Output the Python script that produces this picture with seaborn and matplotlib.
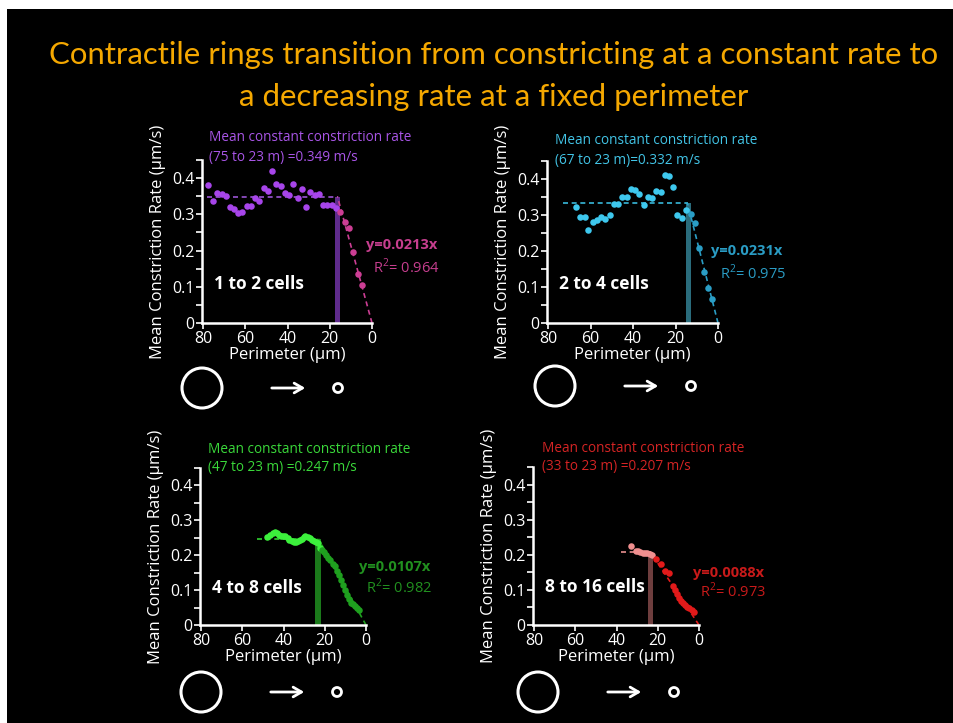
import numpy as np
import pandas as pd
import matplotlib as mpl
from matplotlib import pyplot as plt
from matplotlib.patches import Ellipse, Rectangle, FancyArrowPatch
from matplotlib.ticker import MultipleLocator, FuncFormatter
import seaborn as sns

# ---- data ---------------------------------------------------------------
# panel 1: 1 to 2 cells
p1_const_x = [77.6, 75.6, 73.4, 71.3, 69.4, 67.4, 65.3, 63.6, 61.4, 59.5, 57.3, 55.4,
              53.5, 51.3, 49.2, 47.2, 45.3, 43.2, 41.2, 39.3, 37.3, 35.2, 33.2, 31.1,
              29.2, 27.2, 25.1, 23.2, 21.2, 19.0, 17.1]
p1_const_y = [0.381, 0.336, 0.359, 0.357, 0.350, 0.319, 0.315, 0.305, 0.307, 0.324, 0.324, 0.344,
              0.336, 0.373, 0.364, 0.420, 0.384, 0.378, 0.358, 0.352, 0.385, 0.345, 0.371, 0.319,
              0.363, 0.352, 0.355, 0.325, 0.325, 0.326, 0.317]
p1_dec_x = [15.0, 13.0, 10.9, 8.9, 6.8, 4.9]
p1_dec_y = [0.306, 0.278, 0.261, 0.196, 0.134, 0.105]

# panel 2: 2 to 4 cells
p2_const_x = [66.9, 65.0, 62.9, 61.1, 59.0, 57.2, 55.1, 53.1, 51.0, 49.0, 47.1, 45.1,
              43.1, 41.2, 39.2, 37.2, 35.1, 33.2, 31.2, 29.2, 27.1, 25.2, 23.0, 21.0,
              19.1, 16.9, 15.0]
p2_const_y = [0.323, 0.294, 0.294, 0.258, 0.281, 0.285, 0.295, 0.290, 0.300, 0.330, 0.331, 0.351,
              0.351, 0.372, 0.369, 0.359, 0.327, 0.349, 0.346, 0.366, 0.365, 0.410, 0.409, 0.378,
              0.300, 0.293, 0.315]
p2_dec_x = [12.8, 10.8, 8.9, 6.8, 4.9, 2.7]
p2_dec_y = [0.302, 0.277, 0.207, 0.143, 0.098, 0.066]

# panel 3: 4 to 8 cells
p3_const_x = [47.9, 46.5, 45.3, 44.2, 43.2, 42.2, 41.2, 40.1, 39.1, 38.1, 37.2, 36.1,
              35.1, 34.1, 33.2, 32.2, 31.2, 30.3, 29.4, 28.3, 27.3, 26.3, 25.4, 24.3,
              23.3, 22.2]
p3_const_y = [0.252, 0.258, 0.264, 0.266, 0.265, 0.259, 0.254, 0.255, 0.254, 0.250, 0.245, 0.241,
              0.238, 0.239, 0.242, 0.245, 0.247, 0.251, 0.254, 0.251, 0.248, 0.245, 0.242, 0.239,
              0.235, 0.221]
p3_dec_x = [21.2, 20.2, 19.3, 18.3, 17.3, 16.2, 15.2, 14.1, 13.1, 12.2, 11.2, 10.2,
            9.2, 8.3, 7.3, 6.2, 5.2, 4.2, 3.3]
p3_dec_y = [0.216, 0.209, 0.202, 0.193, 0.185, 0.176, 0.168, 0.156, 0.144, 0.130, 0.115, 0.100,
            0.086, 0.074, 0.064, 0.059, 0.055, 0.049, 0.043]

# panel 4: 8 to 16 cells
p4_const_x = [32.9, 30.8, 29.7, 28.7, 27.1, 26.1, 25.1, 23.9, 22.8]
p4_const_y = [0.226, 0.211, 0.210, 0.209, 0.206, 0.205, 0.204, 0.202, 0.200]
p4_dec_x = [20.7, 18.6, 16.6, 14.7, 12.7, 11.8, 10.8, 9.7, 8.7, 7.7, 6.7, 5.7, 4.8, 3.6, 2.6]
p4_dec_y = [0.189, 0.175, 0.154, 0.149, 0.110, 0.100, 0.089, 0.078, 0.067, 0.062, 0.058, 0.052, 0.048, 0.042, 0.037]

panel_labels = ["1 to 2 cells", "2 to 4 cells", "4 to 8 cells", "8 to 16 cells"]
mean_rates = [0.349, 0.332, 0.247, 0.207]
range_start = [75, 67, 47, 33]
range_end = [23, 23, 23, 23]
dash_start = [78, 73, 53, 38]
slopes = [0.0213, 0.0231, 0.0107, 0.0088]
r_squared = [0.964, 0.975, 0.982, 0.973]
transition = [16.3, 14.0, 23.3, 23.4]
mean_sep = [" ", "", " ", " "]

const_x = [p1_const_x, p2_const_x, p3_const_x, p4_const_x]
const_y = [p1_const_y, p2_const_y, p3_const_y, p4_const_y]
dec_x = [p1_dec_x, p2_dec_x, p3_dec_x, p4_dec_x]
dec_y = [p1_dec_y, p2_dec_y, p3_dec_y, p4_dec_y]

# colours: text, early points, dashed mean, bar, late points/slope, equation
col_text = ["#a855e6", "#42c4e6", "#3ad83a", "#d42424"]
col_pts1 = ["#a745ea", "#3ec8ee", "#3cf03c", "#f08f8f"]
col_mean = ["#9a55d4", "#38b8da", "#30d030", "#e89090"]
col_bar = ["#5f2b8c", "#2a6c7c", "#1b7a1b", "#6e3e3e"]
col_pts2 = ["#cc3e94", "#2a9ec6", "#1fa01f", "#e21a1a"]
col_eq = ["#c63e8e", "#2a9cc4", "#21901f", "#c81a1a"]

# ---- layout ----------------------------------------------------------------
W, H = 954, 723
axes_px = [(202, 160, 372, 323), (547, 161, 718, 323),
           (200, 468, 366, 625), (533, 467, 699, 625)]
title_px = [(0.041, 1.135, 1.018), (0.047, 1.124, 1.006),
            (0.046, 1.115, 1.004), (0.052, 1.114, 1.002)]
eq_pos = [(2.8, 0.215, -0.5, 0.154), (3.3, 0.199, -0.75, 0.137),
          (3.3, 0.165, -0.1, 0.107), (2.9, 0.149, -0.6, 0.096)]
icons = [(202, 388), (555, 386), (201, 692), (538, 692)]

sns.set_style("dark")
plt.rcParams['font.family'] = ['Open Sans', 'DejaVu Sans']
plt.rcParams['mathtext.fontset'] = 'custom'
plt.rcParams['mathtext.rm'] = 'Open Sans'

fig = plt.figure(figsize=(W / 100, H / 100), dpi=100, facecolor="white")
fig.patches.append(Rectangle((7 / W, 0), 1 - 7 / W, 1 - 9 / H, transform=fig.transFigure,
                             facecolor="black", edgecolor="none", zorder=-10))

fig.text(0.5 + 17 / W, 1 - 55 / H,
         "Contractile rings transition from constricting at a constant rate to",
         ha="center", va="center", color="#f5a800", fontsize=22.4, family="Lato")
fig.text(0.5 + 17 / W, 1 - 97 / H, "a decreasing rate at a fixed perimeter",
         ha="center", va="center", color="#f5a800", fontsize=22.4, family="Lato")

for i in range(4):
    l, t, r, b = axes_px[i]
    ax = fig.add_axes([l / W, 1 - b / H, (r - l) / W, (b - t) / H])
    ax.set_facecolor("black")

    # mean-rate dashed line and transition bar
    ax.plot([dash_start[i], transition[i]], [mean_rates[i], mean_rates[i]],
            ls=(0, (3, 2.2)), lw=1.2, color=col_mean[i], zorder=2)
    ax.bar(transition[i], mean_rates[i], width=2.6, color=col_bar[i],
           edgecolor="none", linewidth=0, zorder=1)
    # linear fit through origin
    xs = np.array([0, mean_rates[i] / slopes[i]])
    ax.plot(xs, slopes[i] * xs, ls=(0, (3, 2.2)), lw=1.2, color=col_pts2[i],
            zorder=2, clip_on=False)

    df1 = pd.DataFrame({"perimeter": const_x[i], "rate": const_y[i]})
    df2 = pd.DataFrame({"perimeter": dec_x[i], "rate": dec_y[i]})
    sns.scatterplot(data=df1, x="perimeter", y="rate", color=col_pts1[i], s=22,
                    linewidth=0, ax=ax, zorder=3, clip_on=False)
    sns.scatterplot(data=df2, x="perimeter", y="rate", color=col_pts2[i], s=22,
                    linewidth=0, ax=ax, zorder=3, clip_on=False)

    ax.set_xlim(80.6, 0)
    ax.set_ylim(0, 0.45)
    ax.xaxis.set_major_locator(MultipleLocator(20))
    ax.yaxis.set_major_locator(MultipleLocator(0.1))
    ax.yaxis.set_minor_locator(MultipleLocator(0.05))
    ax.xaxis.set_major_formatter(FuncFormatter(lambda v, p: "%g" % v))
    ax.yaxis.set_major_formatter(FuncFormatter(lambda v, p: "%g" % round(v, 2)))
    ax.tick_params(colors="white", labelsize=11.5, direction="out", length=4,
                   width=1.2, pad=1.5, left=True, bottom=True)
    ax.tick_params(which="minor", colors="white", length=4, width=1.2, left=True)
    for s in ["top", "right"]:
        ax.spines[s].set_visible(False)
    for s in ["left", "bottom"]:
        ax.spines[s].set_color("white")
        ax.spines[s].set_linewidth(1.8)
    ax.grid(False)
    ax.set_xlabel("Perimeter (µm)", color="white", fontsize=12, labelpad=0)
    ax.set_ylabel("Mean Constriction Rate (µm/s)", color="white", fontsize=12, labelpad=4)

    tx, ty1, ty2 = title_px[i]
    ax.text(tx, ty1, "Mean constant constriction rate", transform=ax.transAxes,
            color=col_text[i], fontsize=9.8, ha="left", va="center")
    ax.text(tx, ty2, "(%d to %d m)%s=%.3f m/s" % (range_start[i], range_end[i], mean_sep[i], mean_rates[i]),
            transform=ax.transAxes, color=col_text[i], fontsize=9.8, ha="left", va="center")
    ax.text(75, 0.107, panel_labels[i], color="white", fontsize=12.5, fontweight="bold",
            ha="left", va="center")
    ex, ey, rx, ry = eq_pos[i]
    ax.text(ex, ey, "y=%.4fx" % slopes[i], color=col_eq[i], fontsize=10.5,
            fontweight="bold", ha="left", va="center", clip_on=False)
    ax.text(rx, ry, "R$^2$= %.3f" % r_squared[i], color=col_eq[i], fontsize=10.5,
            ha="left", va="center", clip_on=False)

    # big ring -> small ring icon
    cx, cy = icons[i]
    fig.patches.append(Ellipse((cx / W, 1 - cy / H), 40 / W, 40 / H, transform=fig.transFigure,
                               facecolor="none", edgecolor="white", lw=2.2))
    fig.patches.append(FancyArrowPatch(((cx + 67) / W, 1 - cy / H), ((cx + 106) / W, 1 - cy / H),
                                       transform=fig.transFigure, arrowstyle="->,head_length=6,head_width=3.5",
                                       color="white", lw=2))
    fig.patches.append(Ellipse(((cx + 136) / W, 1 - cy / H), 9 / W, 9 / H, transform=fig.transFigure,
                               facecolor="none", edgecolor="white", lw=2))

fig.savefig("out.png", dpi=100, facecolor=fig.get_facecolor())
